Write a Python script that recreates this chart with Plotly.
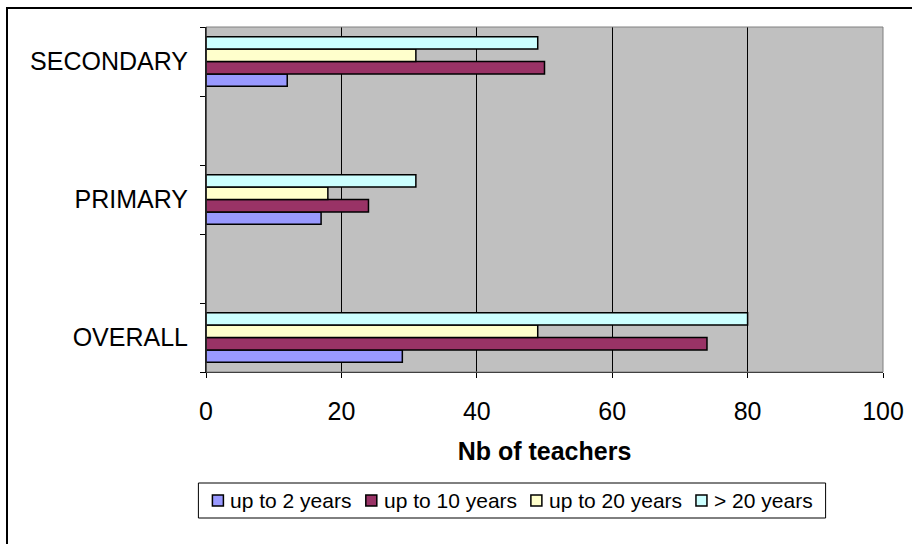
import plotly.graph_objects as go

categories = ["OVERALL", "gap1", "PRIMARY", "gap2", "SECONDARY"]
tick_labels = ["OVERALL", "", "PRIMARY", "", "SECONDARY"]
series_names = ["up to 2 years", "up to 10 years", "up to 20 years", "> 20 years"]
up_to_2 = [29, None, 17, None, 12]
up_to_10 = [74, None, 24, None, 50]
up_to_20 = [49, None, 18, None, 31]
over_20 = [80, None, 31, None, 49]
colors = ["#9999FF", "#993366", "#FFFFCC", "#CCFFFF"]
x_ticks = [0, 20, 40, 60, 80, 100]

W, H = 912, 544
L, R, T, B = 206, 29, 27, 172
pw, ph = W - L - R, H - T - B

def px(x):
    return (x - L) / pw

def py(y):
    return (H - B - y) / ph

FONT = "Liberation Sans, Arial, sans-serif"

# Arial / Liberation Sans advance widths (per 1000 em) for legend layout
ADV = {"u": 556, "p": 556, " ": 278, "t": 278, "o": 556, "0": 556, "1": 556,
       "2": 556, "y": 500, "e": 556, "a": 556, "r": 333, "s": 500, ">": 584}

def text_w(s, size):
    return sum(ADV.get(c, 556) for c in s) * size / 1000.0

fig = go.Figure()
for name, vals, col in zip(series_names, [up_to_2, up_to_10, up_to_20, over_20], colors):
    fig.add_trace(go.Bar(
        y=categories, x=vals, name=name, orientation="h",
        marker=dict(color=col, line=dict(color="black", width=1.5)),
        showlegend=False,
    ))

# ---- manual legend (Excel-style, tight spacing) ----
LEG_F = 21
MK = 11          # marker size
MK_GAP = 6       # marker -> text
ITEM_GAP = 15    # text -> next marker
PAD = 14
leg_cy = 500.5
items_w = sum(MK + MK_GAP + text_w(n, LEG_F) for n in series_names) + ITEM_GAP * (len(series_names) - 1)
box_w = items_w + 2 * PAD
box_x0 = 512 - box_w / 2
shapes = [
    dict(type="rect", xref="paper", yref="paper", x0=0, x1=1, y0=0, y1=1,
         line=dict(color="#808080", width=1), fillcolor="rgba(0,0,0,0)", layer="above"),
    dict(type="rect", xref="paper", yref="paper",
         x0=px(7), x1=px(916), y0=py(548), y1=py(8),
         line=dict(color="black", width=2), fillcolor="rgba(0,0,0,0)"),
    dict(type="line", xref="paper", yref="paper", x0=0, x1=0, y0=0, y1=1,
         line=dict(color="black", width=1)),
    dict(type="rect", xref="paper", yref="paper",
         x0=px(box_x0), x1=px(box_x0 + box_w), y0=py(518), y1=py(483),
         line=dict(color="black", width=1), fillcolor="white"),
]
annotations = []
cx = box_x0 + PAD
for name, col in zip(series_names, colors):
    shapes.append(dict(type="rect", xref="paper", yref="paper",
                       x0=px(cx), x1=px(cx + MK), y0=py(leg_cy + MK / 2), y1=py(leg_cy - MK / 2),
                       line=dict(color="black", width=1.5), fillcolor=col))
    tx = cx + MK + MK_GAP
    annotations.append(dict(xref="paper", yref="paper", x=px(tx - 1), y=py(leg_cy),
                            xanchor="left", yanchor="middle", text=name, showarrow=False,
                            font=dict(family=FONT, size=LEG_F, color="black")))
    cx = tx + text_w(name, LEG_F) + ITEM_GAP

fig.update_layout(
    width=W, height=H,
    margin=dict(l=L, r=R, t=T, b=B, autoexpand=False),
    paper_bgcolor="white",
    plot_bgcolor="#C0C0C0",
    barmode="group",
    bargap=0.28,
    bargroupgap=0,
    font=dict(family=FONT, size=25, color="black"),
    showlegend=False,
    xaxis=dict(
        range=[0, 100], tickvals=x_ticks, showgrid=True, gridcolor="black", gridwidth=1,
        zeroline=False, showline=True, linecolor="black", linewidth=1,
        ticks="outside", ticklen=5, tickcolor="black",
        title=dict(text="<b>Nb of teachers</b>", font=dict(size=25), standoff=18),
        tickfont=dict(size=25), automargin=False, ticklabelstandoff=12,
    ),
    yaxis=dict(
        type="category", categoryorder="array", categoryarray=categories,
        tickvals=categories, ticktext=tick_labels,
        tickson="boundaries", ticks="outside", ticklen=5, tickcolor="black",
        showgrid=False, zeroline=False, showline=True, linecolor="black", linewidth=1,
        tickfont=dict(size=25), automargin=False, ticklabelstandoff=12,
    ),
    shapes=shapes,
    annotations=annotations,
)

fig.write_html("out.html", config={"displayModeBar": False},
               post_script="document.body.style.margin='0';document.body.style.overflow='hidden';")
